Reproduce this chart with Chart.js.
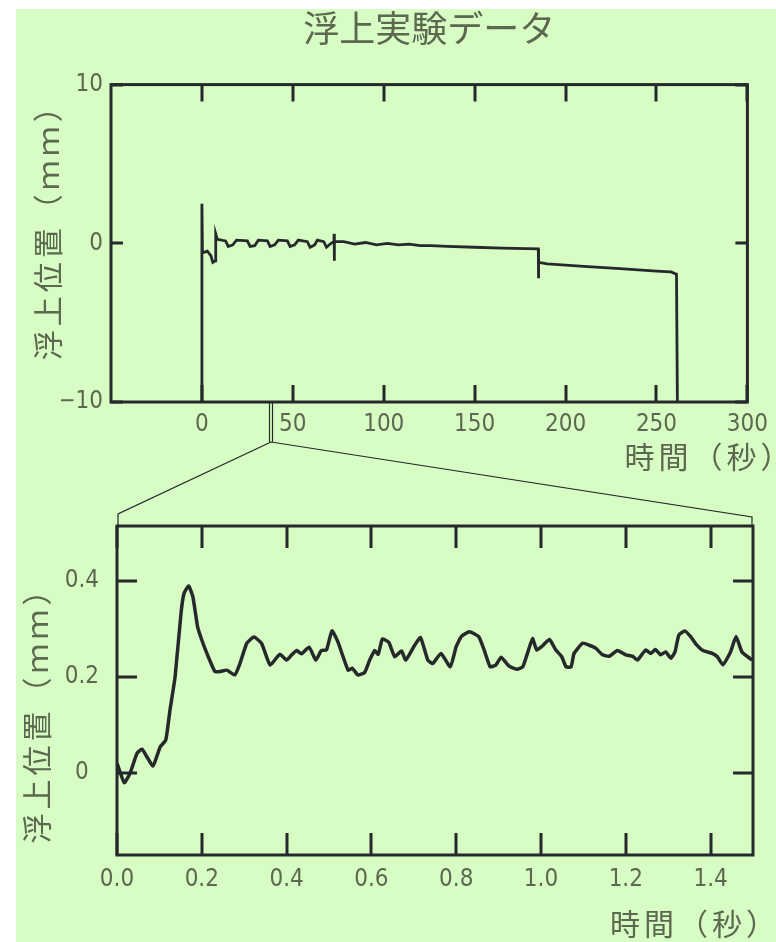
<!DOCTYPE html>
<html lang="ja">
<head>
<meta charset="utf-8">
<title>浮上実験データ</title>
<script src="https://cdn.jsdelivr.net/npm/chart.js@4.4.1/dist/chart.umd.min.js"></script>
<style>
  html, body { margin: 0; padding: 0; background: #fff; }
  #wrap { position: relative; width: 776px; height: 942px; overflow: hidden; }
  #bg { position: absolute; left: 16px; top: 9px; right: 0; bottom: 0; background: #d7fdc4; }
  canvas { position: absolute; left: 16px; }
  #chartAll { top: 9px; }
  #chartZoom { top: 395px; }
</style>
</head>
<body>
<div id="wrap">
  <div id="bg"></div>
  <canvas id="chartAll" width="760" height="470"></canvas>
  <canvas id="chartZoom" width="760" height="547"></canvas>
</div>
<script>
// 上段: 浮上位置の全体 (時間[秒], 位置[mm])
const tAll = [0, 0, 0.3, 3, 5, 6, 7.5, 7.6, 8.5, 13, 14.5, 17, 19, 25, 26.5, 29, 31, 36, 37.5, 40, 42, 47, 48.5, 51, 53, 58, 59.5, 62, 63.5, 67, 68.5, 71, 72.6, 72.7, 72.8, 72.9, 78, 84, 90, 96, 102, 108, 114, 120, 126, 135, 150, 165, 185, 185.1, 185.2, 190, 210, 230, 250, 258, 261, 261.5];
const zAll = [-10, 2.5, -0.6, -0.5, -0.8, -1.2, -1.1, 0.6, 0.25, 0.15, -0.2, -0.1, 0.2, 0.15, -0.2, -0.15, 0.2, 0.15, -0.2, -0.1, 0.2, 0.15, -0.2, -0.1, 0.2, 0.1, -0.25, -0.1, 0.2, 0.1, -0.25, 0, 0.1, 0.6, -1.1, 0.1, 0.1, -0.05, 0.05, -0.1, 0, -0.1, -0.05, -0.15, -0.15, -0.2, -0.25, -0.3, -0.35, -2.2, -1.2, -1.3, -1.45, -1.6, -1.75, -1.8, -1.95, -10];

// 下段: 拡大 (時間[秒], 位置[mm])
const tZoom = [0, 0.017, 0.031, 0.047, 0.059, 0.071, 0.085, 0.102, 0.115, 0.125, 0.137, 0.151, 0.158, 0.169, 0.179, 0.19, 0.2, 0.212, 0.231, 0.243, 0.259, 0.278, 0.29, 0.306, 0.323, 0.341, 0.361, 0.384, 0.4, 0.412, 0.424, 0.435, 0.453, 0.469, 0.482, 0.494, 0.507, 0.521, 0.545, 0.555, 0.568, 0.584, 0.596, 0.608, 0.616, 0.626, 0.641, 0.655, 0.671, 0.681, 0.702, 0.716, 0.733, 0.745, 0.764, 0.786, 0.8, 0.812, 0.831, 0.853, 0.866, 0.88, 0.894, 0.906, 0.924, 0.943, 0.957, 0.968, 0.98, 0.99, 1.005, 1.02, 1.035, 1.049, 1.059, 1.071, 1.078, 1.098, 1.114, 1.129, 1.145, 1.161, 1.18, 1.2, 1.216, 1.227, 1.247, 1.259, 1.27, 1.282, 1.294, 1.306, 1.316, 1.325, 1.339, 1.353, 1.365, 1.382, 1.404, 1.416, 1.429, 1.447, 1.46, 1.474, 1.498];
const zZoom = [0.02, -0.021, -0.001, 0.04, 0.049, 0.032, 0.014, 0.054, 0.068, 0.131, 0.2, 0.333, 0.374, 0.39, 0.367, 0.305, 0.277, 0.249, 0.211, 0.211, 0.214, 0.204, 0.228, 0.27, 0.283, 0.27, 0.225, 0.247, 0.235, 0.246, 0.255, 0.248, 0.262, 0.235, 0.255, 0.256, 0.296, 0.273, 0.214, 0.218, 0.204, 0.209, 0.235, 0.255, 0.247, 0.279, 0.272, 0.242, 0.254, 0.235, 0.266, 0.282, 0.235, 0.228, 0.249, 0.221, 0.263, 0.284, 0.294, 0.284, 0.256, 0.221, 0.225, 0.241, 0.223, 0.216, 0.221, 0.249, 0.28, 0.256, 0.266, 0.278, 0.256, 0.242, 0.221, 0.221, 0.249, 0.27, 0.266, 0.26, 0.246, 0.243, 0.255, 0.246, 0.243, 0.235, 0.256, 0.249, 0.257, 0.246, 0.252, 0.239, 0.252, 0.287, 0.296, 0.284, 0.269, 0.255, 0.249, 0.242, 0.225, 0.252, 0.284, 0.252, 0.235];

// 目盛
const xTicksAll = [0, 50, 100, 150, 200, 250, 300];
const xTickLabelsAll = ['0', '50', '100', '150', '200', '250', '300'];
const yTicksAll = [-10, 0, 10];
const yTickLabelsAll = ['\u221210', '0', '10'];
const xTicksZoom = [0, 0.2, 0.4, 0.6, 0.8, 1.0, 1.2, 1.4];
const xTickLabelsZoom = ['0.0', '0.2', '0.4', '0.6', '0.8', '1.0', '1.2', '1.4'];
const yTicksZoom = [0, 0.2, 0.4];
const yTickLabelsZoom = ['0', '0.2', '0.4'];

// 拡大した位置 (秒)
const zoomAt = 38;

const textColor = '#5c684f';
const inkColor = '#25292b';
const tickFont = { family: '"Liberation Sans Narrow", "DejaVu Sans Condensed", sans-serif', size: 24 };
const cjkFamily = '"Noto Sans CJK JP", sans-serif';

// 枠と内向きの目盛線
const frameTicks = {
    id: 'frameTicks',
    afterDatasetsDraw(chart, args, opts) {
        const { ctx, chartArea: a, scales } = chart;
        ctx.save();
        ctx.strokeStyle = opts.color;
        ctx.lineWidth = opts.tickWidth;
        ctx.beginPath();
        scales.x.ticks.forEach(t => {
            const px = Math.round(scales.x.getPixelForValue(t.value));
            ctx.moveTo(px, a.top); ctx.lineTo(px, a.top + opts.xTickLen);
            ctx.moveTo(px, a.bottom); ctx.lineTo(px, a.bottom - opts.xTickLen);
        });
        scales.y.ticks.forEach(t => {
            const py = Math.round(scales.y.getPixelForValue(t.value));
            ctx.moveTo(a.left, py); ctx.lineTo(a.left + opts.yTickLen, py);
            ctx.moveTo(a.right, py); ctx.lineTo(a.right - opts.yTickLen, py);
        });
        ctx.stroke();
        ctx.lineWidth = opts.frameWidth;
        ctx.strokeRect(a.left, a.top, a.right - a.left, a.bottom - a.top);
        ctx.restore();
    }
};

// 軸タイトル (x は右寄せ、y は回転)
const axisTitles = {
    id: 'axisTitles',
    afterDraw(chart, args, opts) {
        const { ctx, chartArea: a } = chart;
        ctx.save();
        ctx.fillStyle = opts.color;
        ctx.font = `${opts.size}px ${cjkFamily}`;
        ctx.letterSpacing = opts.spacing + 'px';
        ctx.textBaseline = 'middle';
        ctx.textAlign = 'right';
        ctx.fillText(opts.xText, a.right + opts.xDx, a.bottom + opts.xDy);
        ctx.translate(opts.yX, (a.top + a.bottom) / 2 + opts.yDy);
        ctx.rotate(-Math.PI / 2);
        ctx.textAlign = 'center';
        ctx.fillText(opts.yText, 0, 0);
        ctx.restore();
    }
};

// 上段から下段への拡大線
const zoomLink = {
    id: 'zoomLink',
    afterDraw(chart, args, opts) {
        const src = Chart.getChart('chartAll');
        if (!src) return;
        const { ctx, chartArea: a } = chart;
        const dy = src.canvas.offsetTop - chart.canvas.offsetTop;
        const x0 = src.scales.x.getPixelForValue(opts.at);
        const y0 = src.chartArea.bottom + dy;
        const y1 = y0 + opts.stem;
        ctx.save();
        ctx.strokeStyle = opts.color;
        ctx.lineWidth = 1.2;
        ctx.beginPath();
        ctx.moveTo(x0 - 1.5, y0); ctx.lineTo(x0 - 1.5, y1);
        ctx.moveTo(x0 + 1.5, y0); ctx.lineTo(x0 + 1.5, y1);
        ctx.moveTo(x0, y1); ctx.lineTo(a.left + 1, a.top - opts.leftDrop); ctx.lineTo(a.left + 1, a.top);
        ctx.moveTo(x0, y1); ctx.lineTo(a.right - 1, a.top - opts.rightDrop); ctx.lineTo(a.right - 1, a.top);
        ctx.stroke();
        ctx.restore();
    }
};

function fixedTicks(values) {
    return scale => { scale.ticks = values.map(v => ({ value: v })); };
}

new Chart(document.getElementById('chartAll'), {
    type: 'line',
    data: {
        datasets: [{
            data: tAll.map((t, i) => ({ x: t, y: zAll[i] })),
            borderColor: inkColor,
            borderWidth: 2.8,
            pointRadius: 0,
            tension: 0,
            fill: false
        }]
    },
    options: {
        responsive: false,
        animation: false,
        events: [],
        layout: { padding: { left: 45, right: 28, top: 0, bottom: 27 } },
        scales: {
            x: {
                type: 'linear', min: -50, max: 300,
                afterBuildTicks: fixedTicks(xTicksAll),
                afterFit: s => { s.height = 50; },
                grid: { display: false, drawTicks: false },
                border: { display: false },
                ticks: { padding: 8, color: textColor, font: tickFont, maxRotation: 0, autoSkip: false,
                    callback: (v, i) => xTickLabelsAll[i] }
            },
            y: {
                type: 'linear', min: -10, max: 10,
                afterBuildTicks: fixedTicks(yTicksAll),
                afterFit: s => { s.width = 50; },
                grid: { display: false, drawTicks: false },
                border: { display: false },
                ticks: { padding: 8, color: textColor, font: tickFont, autoSkip: false,
                    callback: (v, i) => yTickLabelsAll[i] }
            }
        },
        plugins: {
            legend: { display: false },
            tooltip: { enabled: false },
            title: {
                display: true,
                text: '浮上実験データ',
                fullSize: false,
                color: textColor,
                font: { family: cjkFamily, size: 36, weight: 'normal', lineHeight: 1.1 },
                padding: { top: 0, bottom: 36 }
            },
            frameTicks: { color: inkColor, tickWidth: 3, frameWidth: 3, xTickLen: 17, yTickLen: 12 },
            axisTitles: { color: textColor, size: 30, spacing: 4, xText: '時間（秒）', xDx: 47, xDy: 55,
                yText: '浮上位置（ｍｍ）', yX: 32, yDy: -19 }
        }
    },
    plugins: [frameTicks, axisTitles]
});

new Chart(document.getElementById('chartZoom'), {
    type: 'line',
    data: {
        datasets: [{
            data: tZoom.map((t, i) => ({ x: t, y: zZoom[i] })),
            borderColor: inkColor,
            borderWidth: 3.5,
            pointRadius: 0,
            tension: 0.15,
            fill: false
        }]
    },
    options: {
        responsive: false,
        animation: false,
        events: [],
        layout: { padding: { left: 41, right: 23, top: 131, bottom: 37 } },
        scales: {
            x: {
                type: 'linear', min: 0, max: 1.5,
                afterBuildTicks: fixedTicks(xTicksZoom),
                afterFit: s => { s.height = 50; },
                grid: { display: false, drawTicks: false },
                border: { display: false },
                ticks: { padding: 10, color: textColor, font: tickFont, maxRotation: 0, autoSkip: false,
                    callback: (v, i) => xTickLabelsZoom[i] }
            },
            y: {
                type: 'linear', min: -0.172, max: 0.515,
                afterBuildTicks: fixedTicks(yTicksZoom),
                afterFit: s => { s.width = 60; },
                grid: { display: false, drawTicks: false },
                border: { display: false },
                ticks: { padding: 18, crossAlign: 'center', color: textColor, font: tickFont, autoSkip: false,
                    callback: (v, i) => yTickLabelsZoom[i] }
            }
        },
        plugins: {
            legend: { display: false },
            tooltip: { enabled: false },
            frameTicks: { color: inkColor, tickWidth: 3, frameWidth: 3, xTickLen: 22, yTickLen: 20 },
            axisTitles: { color: textColor, size: 30, spacing: 4, xText: '時間（秒）', xDx: 27, xDy: 69,
                yText: '浮上位置（ｍｍ）', yX: 21, yDy: 17 },
            zoomLink: { at: zoomAt, color: inkColor, stem: 40, leftDrop: 12, rightDrop: 9 }
        }
    },
    plugins: [frameTicks, axisTitles, zoomLink]
});
</script>
</body>
</html>
